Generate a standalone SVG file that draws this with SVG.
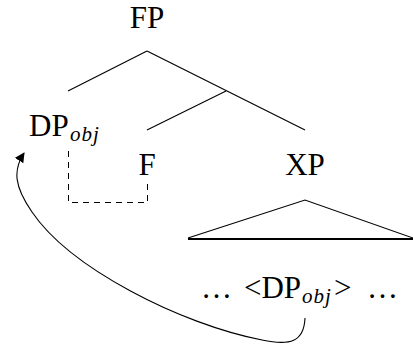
<svg xmlns="http://www.w3.org/2000/svg" width="413" height="345" viewBox="0 0 413 345">
<style>
text{font-family:"Liberation Serif","Times New Roman","DejaVu Serif",serif;font-size:31px;fill:#000}
.sub{font-family:"Liberation Serif","Times New Roman","DejaVu Serif",serif;font-style:italic;font-size:21px;letter-spacing:1px}
.e{stroke:#000;stroke-width:1.1;fill:none}
.d{stroke:#000;stroke-width:1;fill:none;stroke-dasharray:6,5}
</style>
<defs>
<marker id="ah" viewBox="0 0 10 10" refX="9" refY="5" markerWidth="10" markerHeight="10" orient="auto" markerUnits="userSpaceOnUse">
<path d="M0,0 L10,5 L0,10 z" fill="#000"/>
</marker>
</defs>
<g id="FP"><text x="147" y="28" text-anchor="middle">FP</text></g>
<g id="DPobj"><text x="29" y="136">DP</text><text class="sub" x="70" y="141">obj</text></g>
<g id="F"><text x="147" y="175" text-anchor="middle">F</text></g>
<g id="XP"><text x="305" y="175" text-anchor="middle">XP</text></g>
<g id="triangle"><path class="e" d="M188,238 L305,200 L413,238"/><line x1="188" y1="239" x2="413" y2="239" stroke="#000" stroke-width="2"/></g>
<g id="trace"><text x="201" y="298">…</text><text x="244" y="298">&lt;DP</text><text class="sub" x="302" y="303">obj</text><text x="334" y="298">&gt;</text><text x="367" y="298">…</text></g>
<g id="connectors">
<path class="e" d="M147,51 L68,91"/>
<path class="e" d="M147,51 L305,130"/>
<path class="e" d="M226,91 L147,130"/>
<path class="d" d="M68.5,151 L68.5,202.5 L147.5,202.5 L147.5,181"/>
<path class="e" d="M305,318 C304,342 290,346 262,340 C180,324 70,268 32,212 C14,186 13,170 24,153" marker-end="url(#ah)"/>
</g>
</svg>
